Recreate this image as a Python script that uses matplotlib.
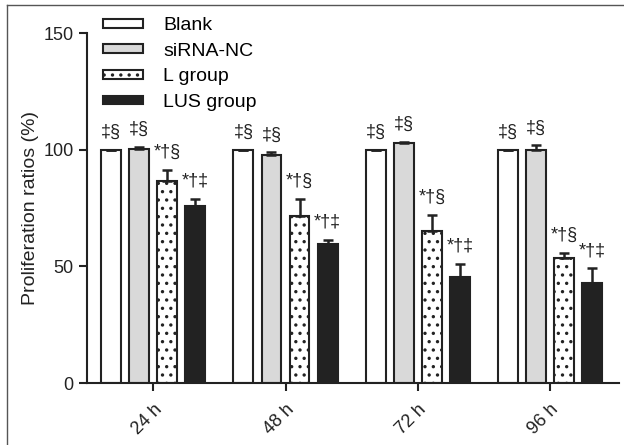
import matplotlib.pyplot as plt
import numpy as np
from matplotlib.lines import Line2D

plt.rcParams['font.family'] = ['Liberation Sans', 'DejaVu Sans']
plt.rcParams['hatch.linewidth'] = 1.2

# --- data ---
time_points = ['24 h', '48 h', '72 h', '96 h']
groups = ['Blank', 'siRNA-NC', 'L group', 'LUS group']
blank = [100, 100, 100, 100]
sirna_nc = [100.5, 97.8, 102.8, 100.0]
l_group = [86.7, 71.7, 65.0, 53.6]
lus_group = [75.7, 59.7, 45.6, 42.8]
blank_err = [0, 0, 0, 0]
sirna_nc_err = [0.6, 1.0, 0.6, 1.8]
l_group_err = [4.5, 7.3, 7.0, 2.0]
lus_group_err = [3.3, 1.7, 5.4, 6.4]
marks = ['‡§', '‡§', '*†§', '*†‡']

values = [blank, sirna_nc, l_group, lus_group]
errors = [blank_err, sirna_nc_err, l_group_err, lus_group_err]
colors = ['white', '#d9d9d9', 'white', '#222222']
hatches = [None, None, '..', None]

fig = plt.figure(figsize=(6.24, 4.45), dpi=100)
ax = fig.add_axes([0.1394, 0.1393, 0.8526, 0.7865])

x = np.arange(len(time_points))
width = 0.15
step = 0.212
offsets = [-1.5 * step, -0.5 * step, 0.5 * step, 1.5 * step]

for i in range(len(groups)):
    xpos = x + offsets[i]
    ax.bar(xpos, values[i], width, color=colors[i], edgecolor='#222222',
           linewidth=1.5, hatch=hatches[i], label=groups[i], zorder=2)
    ax.errorbar(xpos, values[i], yerr=[np.zeros(len(x)), errors[i]], fmt='none',
                ecolor='#222222', elinewidth=1.8, capsize=3.5, capthick=1.8, zorder=3)
    for xp, v, e in zip(xpos, values[i], errors[i]):
        ax.annotate(marks[i], (xp, v + e), xytext=(0, 6.5), textcoords='offset points',
                    ha='center', va='bottom', fontsize=13, color='#222222')

ax.set_xlim(-0.5, 3.52)
ax.set_ylim(0, 150)
ax.set_yticks([0, 50, 100, 150])
ax.set_xticks(x)
ax.set_xticklabels(time_points, rotation=45, ha='right', rotation_mode='anchor')
ax.set_ylabel('Proliferation ratios (%)', fontsize=14, color='#222222', labelpad=3)
ax.tick_params(axis='both', length=6, width=1.5, labelsize=13, colors='#222222', direction='out')
ax.tick_params(axis='x', pad=7)
for s in ['top', 'right']:
    ax.spines[s].set_visible(False)
for s in ['left', 'bottom']:
    ax.spines[s].set_linewidth(1.5)
    ax.spines[s].set_color('#222222')

ax.legend(loc='upper left', bbox_to_anchor=(0.03, 1.045), frameon=False,
          fontsize=14, handlelength=2.06, handleheight=0.31, handletextpad=1.03,
          labelspacing=0.44, borderpad=0, borderaxespad=0)

# thin frame on left/top edges, as in the source image
fig.add_artist(Line2D([0.0105, 0.0105], [0, 0.989], color='#555555', linewidth=1))
fig.add_artist(Line2D([0.0105, 1], [0.989, 0.989], color='#555555', linewidth=1))

fig.savefig('out.png', dpi=100)
